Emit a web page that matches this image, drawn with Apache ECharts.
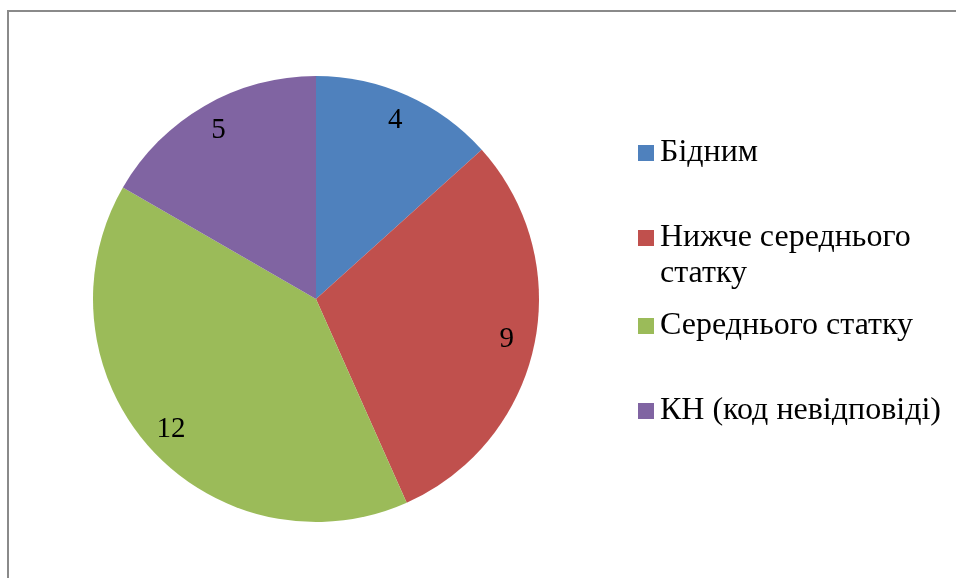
<!DOCTYPE html>
<html>
<head>
<meta charset="utf-8">
<script src="https://cdn.jsdelivr.net/npm/echarts@6/dist/echarts.min.js"></script>
<style>
html,body{margin:0;padding:0;background:#fff;}
#chart{width:956px;height:578px;}
</style>
</head>
<body>
<div id="chart"></div>
<script>
const categories = ['Бідним', 'Нижче середнього статку', 'Середнього статку', 'КН (код невідповіді)'];
const legendLabels = ['Бідним', '\nНижче середнього\nстатку', 'Середнього статку', 'КН (код невідповіді)'];
const values = [4, 9, 12, 5];
const colors = ['#4F81BD', '#C0504D', '#9BBB59', '#8064A2'];

const FONT = '"Liberation Serif", "Times New Roman", serif';
const chart = echarts.init(document.getElementById('chart'));

const legendTops = [135, 184, 308, 393];
const legends = categories.map((c, i) => ({
  data: [c],
  left: 638,
  top: legendTops[i],
  orient: 'vertical',
  padding: 0,
  itemWidth: 16,
  itemHeight: 16,
  itemGap: 0,
  icon: 'rect',
  selectedMode: false,
  formatter: () => legendLabels[i],
  textStyle: { fontFamily: FONT, fontSize: 32, color: '#000', lineHeight: 36, padding: [0, 0, 0, 1] }
}));

const data = categories.map((c, i) => ({ name: c, value: values[i] }));

chart.setOption({
  animation: false,
  color: colors,
  legend: legends,
  graphic: [{
    type: 'rect',
    shape: { x: 8, y: 11, width: 1200, height: 1200 },
    style: { fill: 'none', stroke: '#8a8a8a', lineWidth: 2 },
    silent: true
  }],
  series: [
    {
      type: 'pie',
      center: [316, 299],
      radius: [0, 223],
      startAngle: 90,
      clockwise: true,
      silent: true,
      label: { show: false },
      labelLine: { show: false },
      itemStyle: { borderWidth: 0 },
      data: data
    },
    {
      type: 'pie',
      center: [316, 299],
      radius: [0, 384],
      startAngle: 90,
      clockwise: true,
      silent: true,
      itemStyle: { color: 'rgba(0,0,0,0)', borderWidth: 0 },
      label: {
        show: true,
        position: 'inside',
        formatter: '{c}',
        fontFamily: FONT,
        fontSize: 29,
        color: '#000'
      },
      labelLine: { show: false },
      data: data
    }
  ]
});
</script>
</body>
</html>
